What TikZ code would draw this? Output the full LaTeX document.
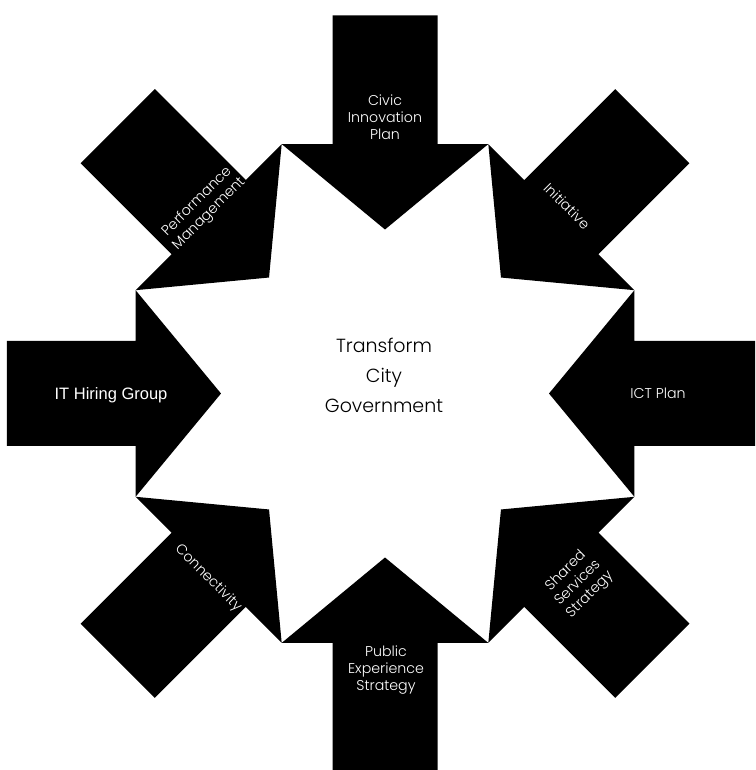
\documentclass[tikz,border=0pt]{standalone}
\usepackage{fontspec}
\setmainfont{Poppins Light}
\newfontfamily\arialfont{Liberation Sans}
\begin{document}
\begin{tikzpicture}[x=1pt,y=1pt,
  arrowshape/.style={fill=black, draw=none},
  lab/.style={text=white, align=center, font=\fontsize{14.2}{17}\selectfont, inner sep=0pt},
  ctr/.style={text=black, align=center, font=\fontsize{19}{30}\selectfont, inner sep=0pt}]
\useasboundingbox (-385,-376.5) rectangle (370,393.5);
\clip (-385,-376.5) rectangle (370,393.5);
\def\tipr{164}\def\baser{249.4}\def\headw{103.3}\def\shaftw{52.5}\def\endr{378}
\foreach \ang in {0,45,90,135,180,225,270,315}{
  \fill[arrowshape, rotate=\ang] (\tipr,0) -- (\baser,\headw) -- (\baser,\shaftw) -- (\endr,\shaftw) -- (\endr,-\shaftw) -- (\baser,-\shaftw) -- (\baser,-\headw) -- cycle;
}
\node[lab] (civic) at (0,276.5) {Civic\\Innovation\\Plan};
\node[lab] (public) at (1,-276.5) {Public\\Experience\\Strategy};
\node[lab, font=\arialfont\fontsize{16.5}{19}\selectfont] (ithiring) at (-274,-1.5) {IT Hiring Group};
\node[lab] (ict) at (273,0.5) {ICT Plan};
\node[lab, rotate=45] (perf) at (-182,185.5) {Performance\\Management};
\node[lab, rotate=-45] (init) at (182,187.5) {Initiative};
\node[lab, rotate=-45] (conn) at (-177,-184.5) {Connectivity};
\node[lab, rotate=45] (shared) at (193,-189.5) {Shared\\Services\\Strategy};
\node[ctr] (center) at (-1,18.5) {Transform\\City\\Government};
\end{tikzpicture}
\end{document}
